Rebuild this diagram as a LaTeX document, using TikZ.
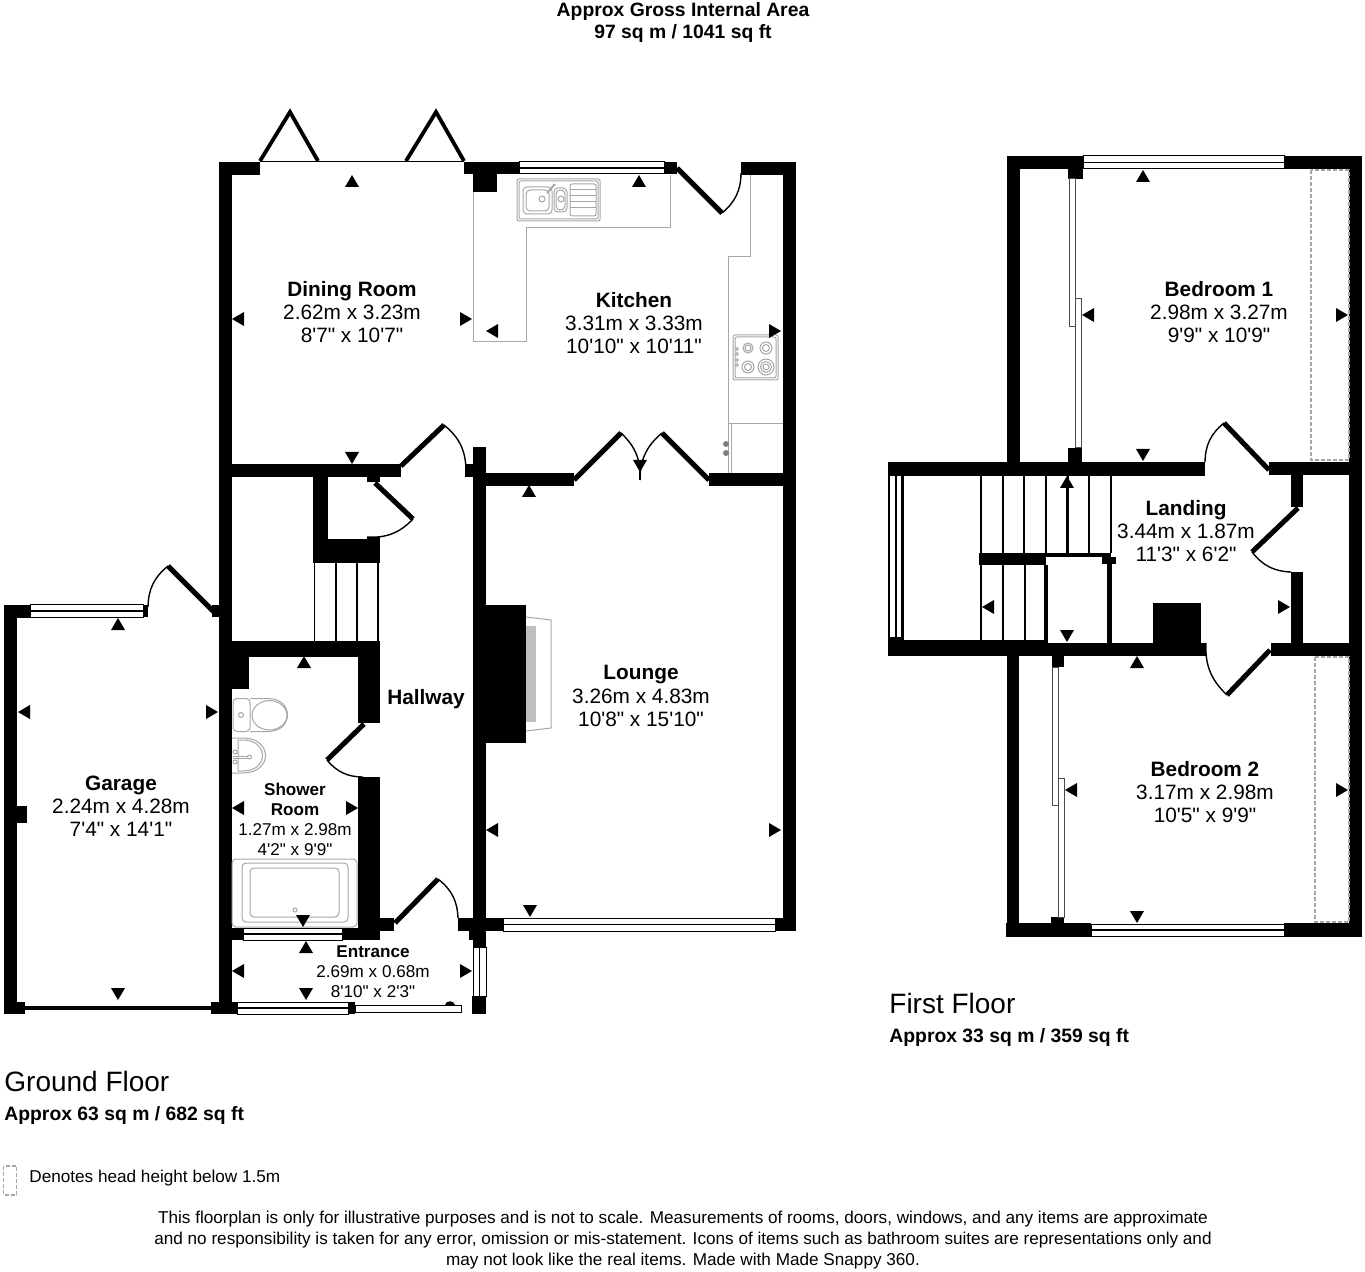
\documentclass[tikz,border=0pt]{standalone}
\usepackage{fontspec}
\newfontfamily\plansans{Liberation Sans}
\usetikzlibrary{positioning}

\begin{document}
\begin{tikzpicture}[
  x=0.5pt, y=-0.5pt,
  wallfill/.style={fill=black},
  leaf/.style={draw=black, line width=2.5pt},
  swing/.style={draw=black, line width=0.7pt},
  winframe/.style={draw=black, fill=white, line width=0.5pt},
  winbar/.style={draw=black, line width=0.8pt},
  fixture/.style={draw=black!35, line width=0.5pt},
  slope/.style={draw=black!35, line width=0.7pt, dashed, dash pattern=on 2pt off 1pt},
  tread/.style={draw=black, line width=0.6pt},
  roomtext/.style={align=center, inner sep=0pt, font=\plansans\fontsize{10.4}{11.6}\selectfont},
  smalltext/.style={align=center, inner sep=0pt, font=\plansans\fontsize{8.55}{10}\selectfont},
  titletext/.style={align=center, inner sep=0pt, font=\plansans\fontsize{9.67}{11}\selectfont\bfseries},
  floortext/.style={anchor=west, inner sep=0pt, font=\plansans\fontsize{14}{16}\selectfont},
  areatext/.style={anchor=west, inner sep=0pt, font=\plansans\fontsize{9.67}{11}\selectfont\bfseries},
  notetext/.style={align=center, inner sep=0pt, font=\plansans\fontsize{8.58}{10.5}\selectfont}
]
\useasboundingbox (0,0) rectangle (1365,1272);

% Ground floor walls
\foreach \xa/\ya/\xb/\yb in {
  219/162/260/175, 219/162/232/1014, 464/162/519/174, 664/162/677/174, 741/162/796/175,
  783/162/796/931, 473/162/497/174, 473/174/497/192,
  219/464/401/477, 465/464/473/477, 473/447/486/1014, 486/473/574/486, 709/473/783/486,
  313/477/328/560, 313/539/380/563, 367/537/380/540, 367/477/380/482,
  219/641/380/657, 232/657/249/689, 358/657/380/723, 358/777/380/940, 380/918/394/931,
  458/918/503/931, 775/918/796/931, 232/928/380/940, 469/931/486/940,
  486/605/526/743,
  4/605/17/1014, 4/605/30/618, 143/605/148/617, 212/605/219/617, 17/806/27/823,
  4/1002/25/1014, 25/1006/211/1010, 211/1002/237/1014, 348/1002/355/1014, 472/996/486/1014}
  \fill[wallfill] (\xa,\ya) rectangle (\xb,\yb);

% First floor walls
\foreach \xa/\ya/\xb/\yb in {
  1007/156/1083/169, 1284/156/1362/169, 1007/156/1020/462, 1349/156/1362/937,
  1068/169/1083/179, 1068/448/1082/462,
  888/462/1205/476, 1269/462/1349/475, 1291/475/1303/507, 1291/572/1303/643,
  888/462/890/656, 901/476/904/640, 888/637/904/656, 888/640/1044/656,
  888/643/1206/656, 1271/643/1349/656, 1153/603/1201/643,
  979/553/1046/565, 1046/553/1111/557, 1102/557/1116/564, 1107/564/1112/643, 1044/565/1048/643,
  1052/656/1064/667, 1007/656/1019/937, 1006/923/1091/937, 1284/923/1362/937, 1051/917/1064/923}
  \fill[wallfill] (\xa,\ya) rectangle (\xb,\yb);

% Horizontal windows
\foreach \xa/\ya/\xb/\yb in {
  519/162/664/174, 503/918/775/931, 30/605/143/617, 243/928/342/940, 237/1002/348/1014,
  1083/156/1284/169, 1091/924/1284/936} {
  \fill[winframe] (\xa,\ya) rectangle (\xb,\yb);
  \draw[winbar] (\xa,{(\ya+\yb)/2}) -- (\xb,{(\ya+\yb)/2});
}
% Vertical windows
\foreach \xa/\ya/\xb/\yb in {473/947/486/996} {
  \fill[winframe] (\xa,\ya) rectangle (\xb,\yb);
  \draw[winbar] ({(\xa+\xb)/2},\ya) -- ({(\xa+\xb)/2},\yb);
}
\draw[winbar] (896,476) -- (896,637);

% Patio doors and sliding door
\draw[line width=0.5pt] (260,162) -- (464,162);
\draw[line width=1.9pt] (260,161) -- (290,112) -- (318,161);
\draw[line width=1.9pt] (406,161) -- (436,112) -- (464,161);
\fill[white, draw=black, line width=0.5pt] (355,1005) rectangle (461,1012);
\fill (445,1005) .. controls (446,1000) and (454,1000) .. (455,1005) -- cycle;

% Hinged doors: hinge, tip, jamb
\foreach \hx/\hy/\tx/\ty/\jx/\jy/\bend in {
  401/466/444/425/466/470/left, 677/168/722/213/741/173/right,
  574/480/621/433/640/480/left, 709/480/662/433/640/480/right,
  214/612/168/566/148/607/right, 375/483/413/519/367/537/left,
  364/724/327/760/363/777/right, 395/923/438/879/458/918/left,
  1269/470/1224/423/1205/462/right, 1298/508/1252/552/1291/572/right,
  1270/650/1227/695/1206/643/left} {
  \draw[leaf] (\hx,\hy) -- (\tx,\ty);
  \draw[swing] (\tx,\ty) to[bend \bend=25] (\jx,\jy);
}
\draw[line width=0.7pt] (640,462) -- (640,480);

% Stairs
\foreach \xa in {314.5,336,357,378}
  \draw[tread] (\xa,563) -- (\xa,641);
\foreach \xa in {981,1003,1024,1046,1068,1089,1111}
  \draw[tread] (\xa,476) -- (\xa,553);
\foreach \xa in {981,1003,1025}
  \draw[tread] (\xa,565) -- (\xa,640);

% Kitchen units
\draw[fixture] (473,192) -- (473,342) -- (526,342) -- (526,228) -- (670,228) -- (670,175);
\draw[fixture] (750,175) -- (750,257) -- (728,257) -- (728,473);
\draw[fixture] (731,473) -- (731,424);
\draw[fixture] (728,424) -- (783,424);
\fill[black!50] (726,444) circle (3) (726,453) circle (3);

% Sink
\draw[fixture, rounded corners=1pt] (517,179) rectangle (600,221);
\draw[fixture, rounded corners=1pt] (519,181) rectangle (598,219);
\draw[fixture, rounded corners=2pt] (523,187) rectangle (552,214);
\draw[fixture, rounded corners=2pt] (526,190) rectangle (549,211);
\draw[fixture, rounded corners=2pt] (554,188) rectangle (567,212);
\draw[fixture, rounded corners=2pt] (556,190) rectangle (565,210);
\draw[fixture, rounded corners=1pt] (570,184) rectangle (596,216);
\foreach \ya in {190,196,202,208}
  \draw[fixture] (570,\ya) -- (596,\ya);
\draw[fixture] (542,199) circle (3) (561,199) circle (3);
\draw[fixture, line width=1pt] (547,193) -- (555,184);

% Hob
\draw[fixture, rounded corners=1pt] (733,335) rectangle (778,380);
\draw[fixture, rounded corners=1pt] (735,337) rectangle (776,378);
\foreach \ya in {349,354,360,365}
  \draw[fixture] (737,\ya) circle (1.5);
\draw[fixture] (748,348) circle (5) (748,348) circle (3);
\draw[fixture] (766,348) circle (6) (766,348) circle (3.5);
\draw[fixture] (748,367) circle (6) (748,367) circle (3.5);
\draw[fixture] (766,367) circle (8) (766,367) circle (5.5) (766,367) circle (3);

% Fireplace
\fill[black!25] (526,626) rectangle (536,722);
\draw[fixture] (526,617) -- (551,620) -- (551,728) -- (526,731);

% Shower room fittings
\draw[fixture, rounded corners=2pt] (233,698.5) rectangle (250,731.5);
\draw[fixture] (250,698.5) -- (268,698.5) .. controls (294,698.5) and (294,731.5) .. (268,731.5) -- (250,731.5);
\draw[fixture] (269.5,715.3) ellipse (17.5 and 14.7);
\draw[fixture] (241,715) circle (2.5);
\draw[fixture] (232,738) -- (243,738) .. controls (273,738) and (273,773) .. (243,773) -- (232,773);
\draw[fixture] (238,740) -- (243,740) .. controls (269,740) and (269,771) .. (243,771) -- (238,771) -- cycle;
\draw[fixture] (233,756) -- (247,756) (233,758) -- (247,758);
\draw[fixture] (235,752) circle (2) (235,762) circle (2);
\draw[fixture] (249.5,757) circle (2);
\draw[fixture, rounded corners=2pt] (232,859) rectangle (357,927);
\draw[fixture, rounded corners=2pt] (242,863) rectangle (348,922);
\draw[fixture, rounded corners=2pt] (250,868) rectangle (339,917);
\draw[fixture] (295,910) circle (2);

% Sliding wardrobes
\foreach \xa/\ya/\xb/\yb in {
  1069/179/1075/327, 1075/299/1081/448, 1052/667/1058/805, 1058/778/1064/917}
  \draw[fill=white, draw=black!70, line width=0.5pt] (\xa,\ya) rectangle (\xb,\yb);

% Low ceiling areas
\draw[slope] (1311,170) rectangle (1349,460);
\draw[slope] (1315,657) rectangle (1349,922);
\draw[slope] (3.5,1166) rectangle (16.5,1195);

% Measure marks
\foreach \xa/\ya in {
  352/181, 639/181, 529/491, 118/624, 304/662, 306/947, 1143/176, 1067/482, 1137/662}
  \fill (\xa,\ya) ++(-7,6) -- ++(14,0) -- ++(-7,-12) -- cycle;
\foreach \xa/\ya in {
  352/458, 640/466, 118/994, 303/921, 306/994, 530/911, 1143/455, 1067/636, 1137/917}
  \fill (\xa,\ya) ++(-7,-6) -- ++(14,0) -- ++(-7,12) -- cycle;
\foreach \xa/\ya in {
  238/319, 492/331, 24/712, 238/808, 492/830, 238/971, 1088/315, 988/607, 1071/790}
  \fill (\xa,\ya) ++(6,-7) -- ++(0,14) -- ++(-12,-7) -- cycle;
\foreach \xa/\ya in {
  466/319, 775/331, 212/712, 352/808, 775/830, 466/971, 1342/315, 1284/607, 1342/790}
  \fill (\xa,\ya) ++(-6,-7) -- ++(0,14) -- ++(12,-7) -- cycle;
\draw[line width=0.6pt] (1067,482) -- (1067,553);

% Room labels
\node[roomtext] (dining) at (352,312) {\textbf{Dining Room}\\2.62m x 3.23m\\8'7" x 10'7"};
\node[roomtext] (kitchen) at (634,323) {\textbf{Kitchen}\\3.31m x 3.33m\\10'10" x 10'11"};
\node[roomtext] (lounge) at (641,696) {\textbf{Lounge}\\3.26m x 4.83m\\10'8" x 15'10"};
\node[roomtext] (garage) at (121,806) {\textbf{Garage}\\2.24m x 4.28m\\7'4" x 14'1"};
\node[roomtext] (hallway) at (426,699) {\textbf{Hallway}};
\node[smalltext] (shower) at (295,819) {\textbf{Shower}\\\textbf{Room}\\1.27m x 2.98m\\4'2" x 9'9"};
\node[smalltext] (entrance) at (373,972) {\textbf{Entrance}\\2.69m x 0.68m\\8'10" x 2'3"};
\node[roomtext] (bedone) at (1219,312) {\textbf{Bedroom 1}\\2.98m x 3.27m\\9'9" x 10'9"};
\node[roomtext] (bedtwo) at (1205,792) {\textbf{Bedroom 2}\\3.17m x 2.98m\\10'5" x 9'9"};
\node[roomtext] (landing) at (1186,531) {\textbf{Landing}\\3.44m x 1.87m\\11'3" x 6'2"};

% Page texts
\node[titletext] (title) at (683,23) {Approx Gross Internal Area\\97 sq m / 1041 sq ft};
\node[floortext] (ground) at (4,1081) {Ground Floor};
\node[areatext] (groundarea) at (4,1115.5) {Approx 63 sq m / 682 sq ft};
\node[floortext] (first) at (889,1003) {First Floor};
\node[areatext] (firstarea) at (889,1037.5) {Approx 33 sq m / 359 sq ft};
\node[notetext, anchor=west] (legend) at (29,1178.5) {Denotes head height below 1.5m};
\node[notetext] (disclaimer) at (683,1240) {This floorplan is only for illustrative purposes and is not to scale. Measurements of rooms, doors, windows, and any items are approximate\\and no responsibility is taken for any error, omission or mis-statement. Icons of items such as bathroom suites are representations only and\\may not look like the real items. Made with Made Snappy 360.};

\end{tikzpicture}
\end{document}
